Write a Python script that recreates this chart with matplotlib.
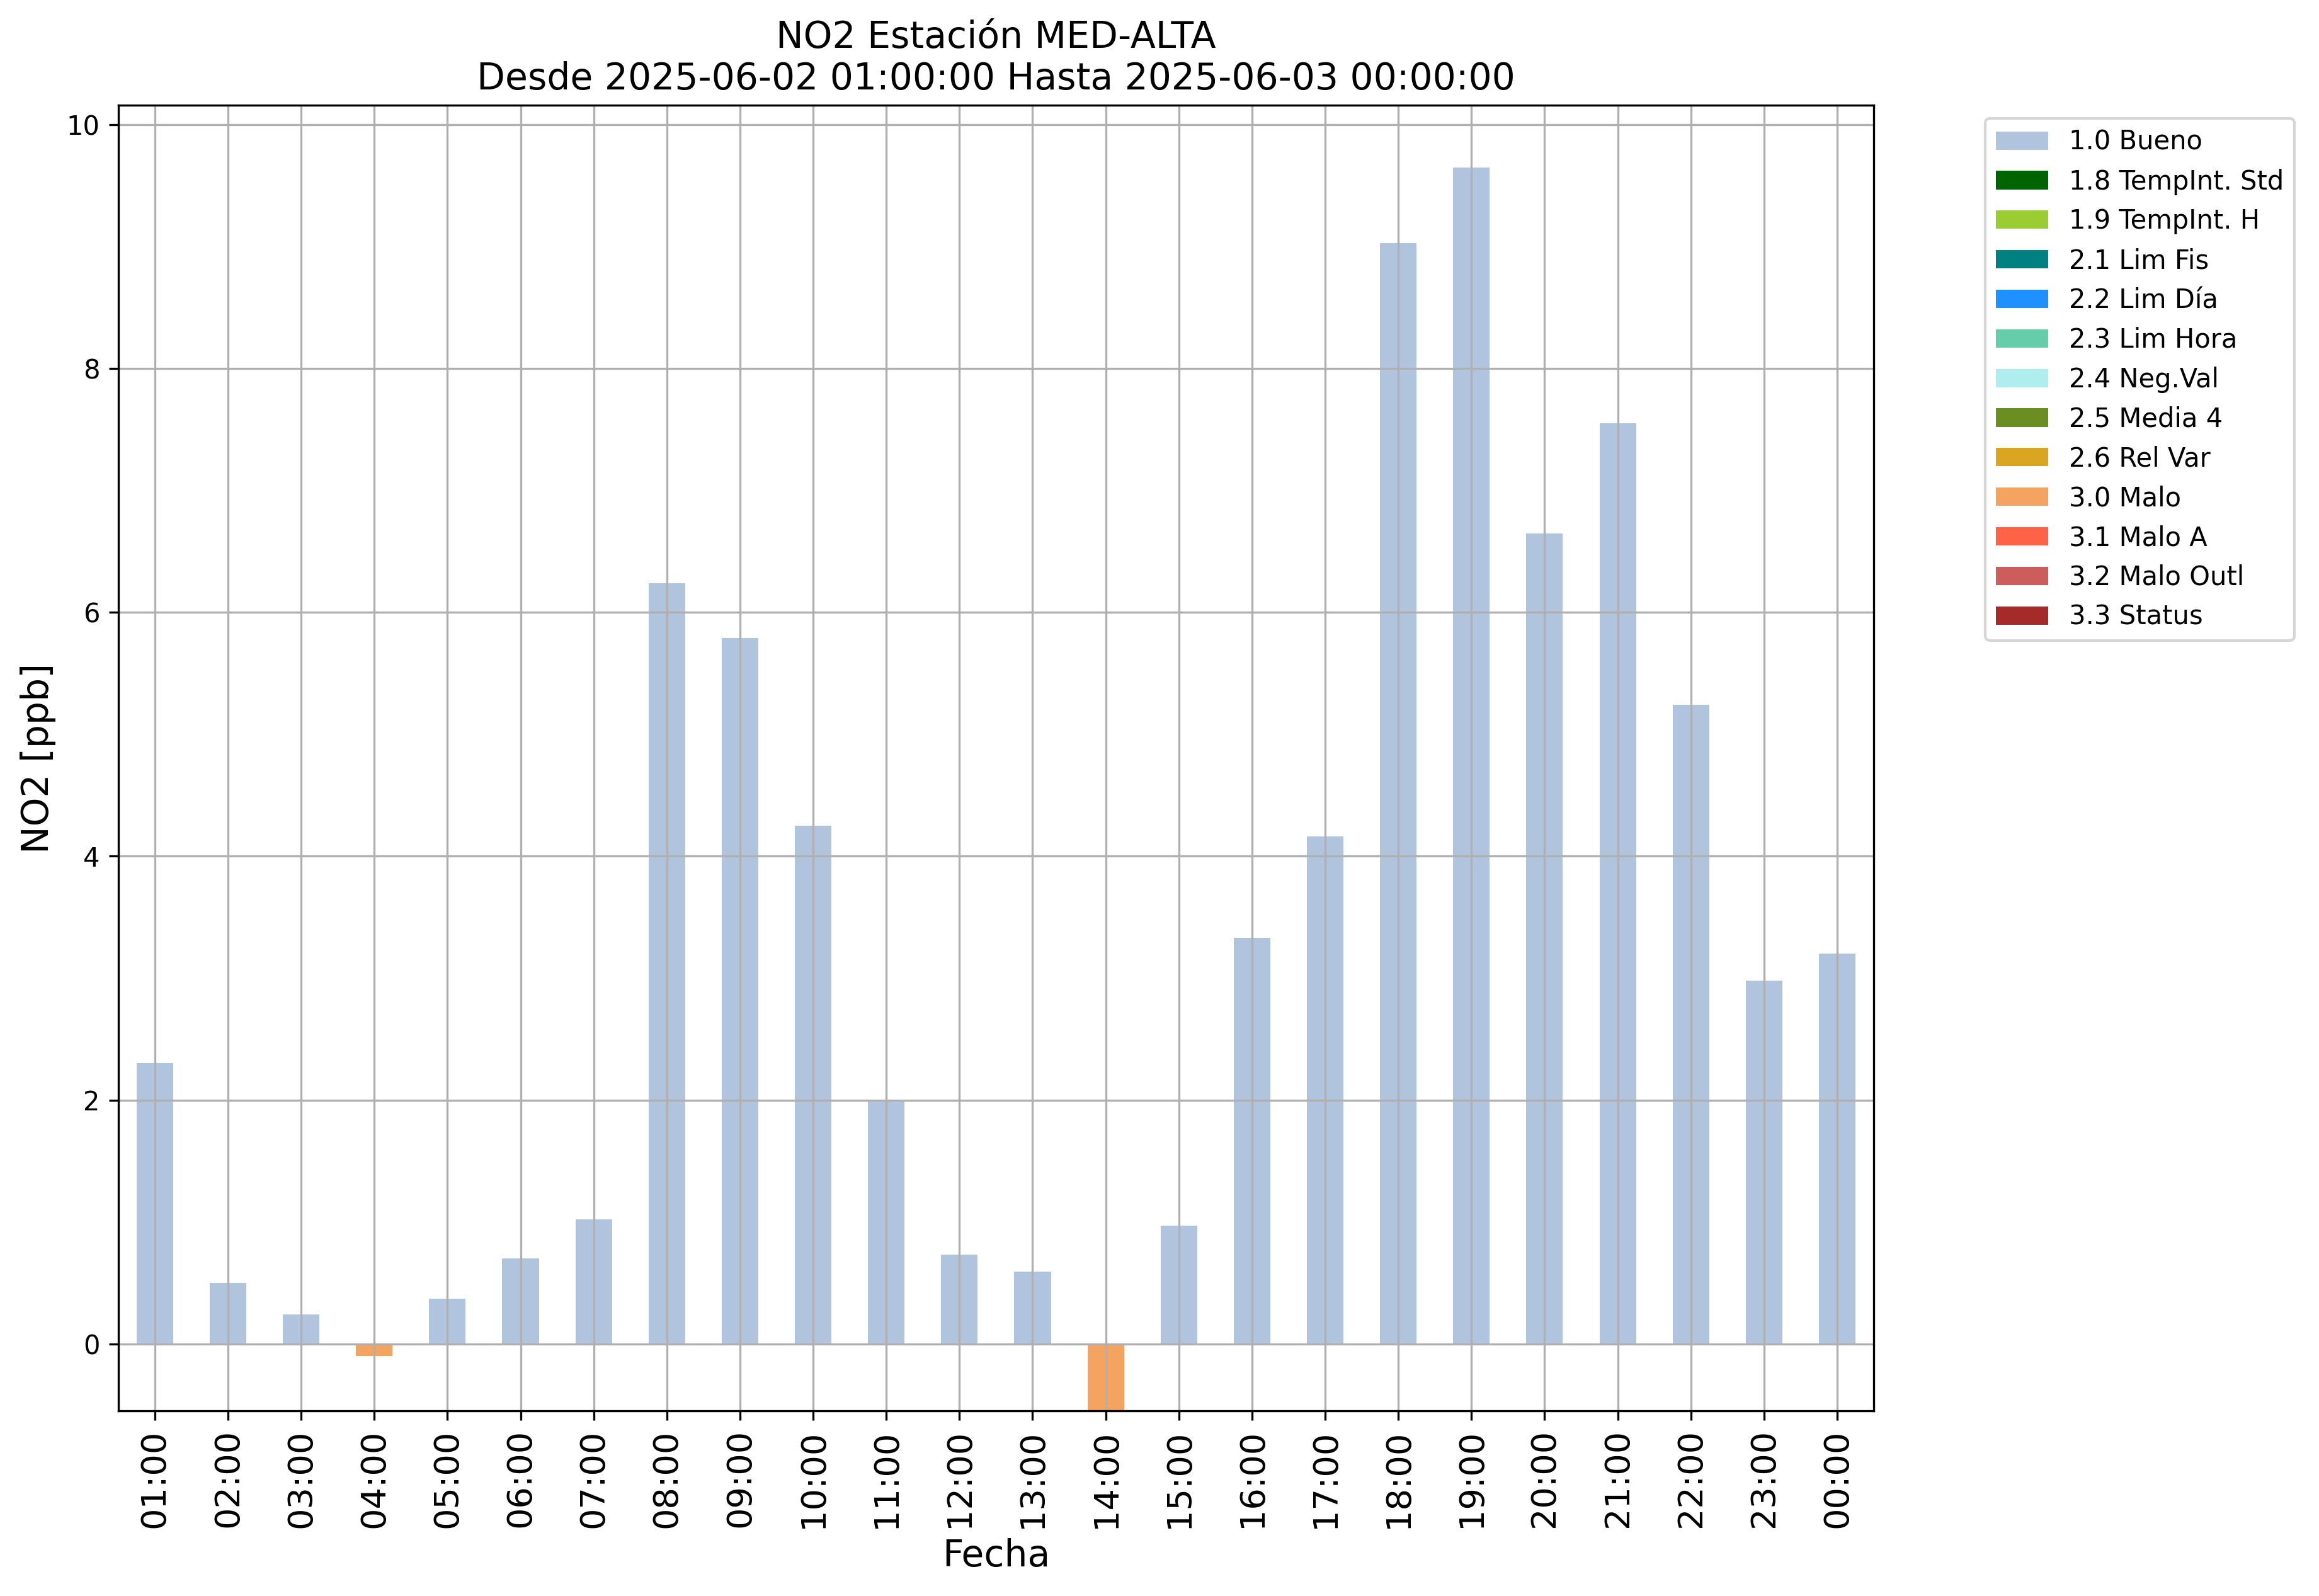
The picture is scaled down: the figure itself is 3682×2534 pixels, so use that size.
import numpy as np
import pandas as pd
import matplotlib
matplotlib.use("Agg")
import matplotlib.pyplot as plt

# hours shown on the x axis
horas = ["01:00", "02:00", "03:00", "04:00", "05:00", "06:00", "07:00", "08:00",
         "09:00", "10:00", "11:00", "12:00", "13:00", "14:00", "15:00", "16:00",
         "17:00", "18:00", "19:00", "20:00", "21:00", "22:00", "23:00", "00:00"]

# NO2 hourly values [ppb]
valores = [2.30, 0.50, 0.24, -0.10, 0.37, 0.70, 1.02, 6.24,
           5.79, 4.25, 2.00, 0.73, 0.59, -2.00, 0.97, 3.33,
           4.16, 9.03, 9.65, 6.65, 7.55, 5.24, 2.98, 3.20]

# quality flag of each hour
flags = ["1.0 Bueno"] * 24
flags[3] = "3.0 Malo"
flags[13] = "3.0 Malo"

etiquetas = ["1.0 Bueno", "1.8 TempInt. Std", "1.9 TempInt. H", "2.1 Lim Fis",
             "2.2 Lim Día", "2.3 Lim Hora", "2.4 Neg.Val", "2.5 Media 4",
             "2.6 Rel Var", "3.0 Malo", "3.1 Malo A", "3.2 Malo Outl", "3.3 Status"]
colores = ["lightsteelblue", "darkgreen", "yellowgreen", "teal", "dodgerblue",
           "mediumaquamarine", "paleturquoise", "olivedrab", "goldenrod",
           "sandybrown", "tomato", "indianred", "brown"]

# one column per flag, value only where that flag applies
df = pd.DataFrame(0.0, index=horas, columns=etiquetas)
for h, v, f in zip(horas, valores, flags):
    df.loc[h, f] = v

fig = plt.figure(figsize=(3682 / 300, 2534 / 300), dpi=300)
ax = fig.add_axes([0.051, 0.116, 0.757, 0.818])

df.plot(kind="bar", stacked=True, color=colores, ax=ax, width=0.5, legend=False)

ax.set_ylim(-0.55, 10.16)
ax.grid(True)
ax.tick_params(axis="x", labelsize=13, rotation=90)
ax.tick_params(axis="y", labelsize=10)
ax.set_xlabel("Fecha", fontsize=14)
ax.set_ylabel("NO2 [ppb]", fontsize=14)
ax.set_title("NO2 Estación MED-ALTA\nDesde 2025-06-02 01:00:00 Hasta 2025-06-03 00:00:00",
             fontsize=14)

ax.legend(bbox_to_anchor=(1.056, 1.0), loc="upper left", fontsize=10)

fig.savefig("out.png", dpi=300)
